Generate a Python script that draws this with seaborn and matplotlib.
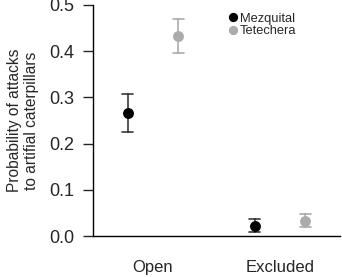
import numpy as np
import pandas as pd
import matplotlib
matplotlib.use("Agg")
import matplotlib.pyplot as plt
import seaborn as sns

# values: mean with lower / upper error bar
treatment = ["Open", "Excluded"]
site = ["Mezquital", "Tetechera"]
mezquital_mean = [0.267, 0.022]
mezquital_low = [0.225, 0.008]
mezquital_high = [0.308, 0.036]
tetechera_mean = [0.433, 0.033]
tetechera_low = [0.395, 0.019]
tetechera_high = [0.470, 0.048]

# long table: three rows per group, median = mean, 100% interval = bar
rows = []
for s, m, lo, hi in [("Mezquital", mezquital_mean, mezquital_low, mezquital_high),
                     ("Tetechera", tetechera_mean, tetechera_low, tetechera_high)]:
    for i, t in enumerate(treatment):
        for v in (lo[i], m[i], hi[i]):
            rows.append({"treatment": t, "site": s, "p": v})
df = pd.DataFrame(rows)

sns.set_style("white")
plt.rcParams["font.family"] = ["Liberation Sans", "DejaVu Sans"]

fig = plt.figure(figsize=(3.42, 2.77), dpi=100)
ax = fig.add_axes([0.272, 0.148, 0.722, 0.834])

sns.pointplot(data=df, x="treatment", y="p", hue="site", order=treatment,
              hue_order=site, estimator="median", errorbar=("pi", 100),
              dodge=0.4, linestyle="none", markers="o", markersize=5.8,
              palette=["black", "#ababab"], capsize=0.085, err_kws={"linewidth": 1.2},
              ax=ax)

# darker grey for the Mezquital error bars, points on top
for ln in ax.lines:
    if ln.get_marker() not in ("", "None", None):
        ln.set_zorder(5)
    elif matplotlib.colors.to_hex(ln.get_color()) == "#000000":
        ln.set_color("#3a3a3a")

ax.set_xlim(-0.472, 1.472)
ax.set_ylim(0, 0.5)
ax.set_yticks([0, 0.1, 0.2, 0.3, 0.4, 0.5])
ax.set_yticklabels(["0.0", "0.1", "0.2", "0.3", "0.4", "0.5"])
ax.set_xlabel("")
ax.set_ylabel("Probability of attacks\nto artifial caterpillars", fontsize=11.2, labelpad=7)
ax.tick_params(axis="y", length=7, width=1, pad=6.5, labelsize=13, left=True)
ax.tick_params(axis="x", length=0, pad=17, labelsize=12)
sns.despine(ax=ax)
for sp in ["left", "bottom"]:
    ax.spines[sp].set_color("black")
    ax.spines[sp].set_linewidth(1)

leg = ax.legend(loc="upper left", bbox_to_anchor=(0.505, 1.0), frameon=False,
                fontsize=9.3, handletextpad=0.0, labelspacing=0.05,
                handlelength=1.1, borderaxespad=0.2, markerscale=0.8)

fig.savefig("out.png", dpi=100)
